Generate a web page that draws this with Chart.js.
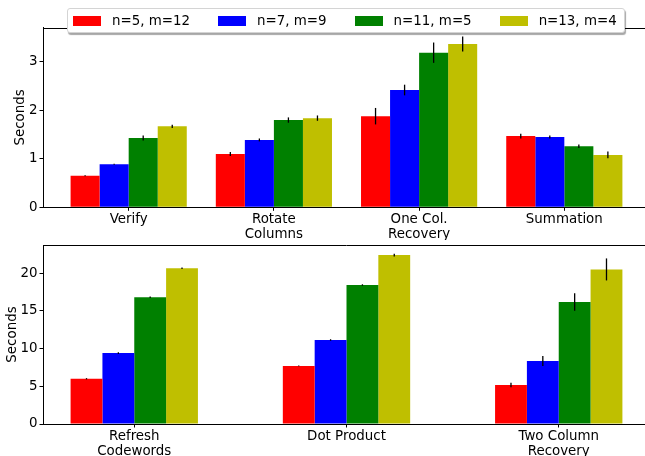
<!DOCTYPE html>
<html><head><meta charset="utf-8">
<script src="https://cdn.jsdelivr.net/npm/chart.js@4"></script>
<style>
html,body{margin:0;padding:0;background:#fff;}
#wrap{position:relative;width:645px;height:456px;overflow:hidden;background:#fff;}
canvas{position:absolute;left:0;}
#legend{position:absolute;left:67px;top:8px;width:558px;height:25px;box-sizing:border-box;border:1px solid #d4d4d4;border-radius:3px;background:#fff;box-shadow:1px 2px 1px rgba(0,0,0,0.35);display:flex;align-items:center;font-family:'DejaVu Sans';font-size:13.4px;color:#000;z-index:2;padding-left:5px;}
.sw{width:28px;height:10px;margin-right:11px;flex:none;}
.lt{margin-right:28px;white-space:nowrap;}
</style>
</head><body>
<div id="wrap">
  <canvas id="c1" width="660" height="240" style="top:0px"></canvas>
  <canvas id="c2" width="660" height="226" style="top:230px"></canvas>
  <div id="legend"></div>
</div>
<script>
// ---- data ----
const seriesLabels = ['n=5, m=12', 'n=7, m=9', 'n=11, m=5', 'n=13, m=4'];
const seriesColors = ['#ff0000', '#0000ff', '#008000', '#bfbf00'];

const topCategories = ['Verify', ['Rotate', 'Columns'], ['One Col.', 'Recovery'], 'Summation'];
const topRed    = [0.65, 1.10, 1.88, 1.47];
const topBlue   = [0.89, 1.39, 2.42, 1.45];
const topGreen  = [1.43, 1.80, 3.19, 1.26];
const topYellow = [1.67, 1.84, 3.37, 1.08];
const topRedErr    = [0.01, 0.04, 0.17, 0.05];
const topBlueErr   = [0.01, 0.03, 0.11, 0.03];
const topGreenErr  = [0.05, 0.055, 0.21, 0.035];
const topYellowErr = [0.035, 0.055, 0.155, 0.07];
const topYTicks = [0, 1, 2, 3];

const botCategories = [['Refresh', 'Codewords'], 'Dot Product', ['Two Column', 'Recovery']];
const botRed    = [6.0, 7.7, 5.17];
const botBlue   = [9.4, 11.14, 8.36];
const botGreen  = [16.8, 18.43, 16.18];
const botYellow = [20.65, 22.41, 20.5];
const botRedErr    = [0.08, 0.05, 0.3];
const botBlueErr   = [0.1, 0.1, 0.66];
const botGreenErr  = [0.1, 0.1, 1.15];
const botYellowErr = [0.1, 0.18, 1.46];
const botYTicks = [0, 5, 10, 15, 20];

// ---- legend ----
const lg = document.getElementById('legend');
seriesLabels.forEach((l, i) => {
  const s = document.createElement('span'); s.className = 'sw'; s.style.background = seriesColors[i];
  const t = document.createElement('span'); t.className = 'lt'; t.textContent = l;
  lg.appendChild(s); lg.appendChild(t);
});

Chart.defaults.font.family = "'DejaVu Sans'";
Chart.defaults.font.size = 13.4;
Chart.defaults.color = '#000';

const errorBars = {
  id: 'errorBars',
  afterDatasetsDraw(chart) {
    const ctx = chart.ctx, ys = chart.scales.y;
    ctx.save();
    ctx.strokeStyle = '#000';
    ctx.lineWidth = 1.3;
    chart.data.datasets.forEach((ds, i) => {
      const meta = chart.getDatasetMeta(i);
      meta.data.forEach((bar, j) => {
        const v = ds.data[j].y, e = ds.errors[j];
        ctx.beginPath();
        ctx.moveTo(bar.x, ys.getPixelForValue(v + e));
        ctx.lineTo(bar.x, ys.getPixelForValue(v - e));
        ctx.stroke();
      });
    });
    ctx.restore();
  }
};
const spines = {
  id: 'spines',
  afterDraw(chart) {
    const ctx = chart.ctx, a = chart.chartArea;
    ctx.save();
    ctx.strokeStyle = '#000';
    ctx.lineWidth = 1;
    ctx.beginPath();
    ctx.moveTo(a.left, Math.round(a.top) + 0.5);
    ctx.lineTo(a.right, Math.round(a.top) + 0.5);
    ctx.lineTo(a.right, a.bottom);
    ctx.stroke();
    ctx.restore();
  }
};

function makeChart(id, cats, vals, errs, yMax, yTicks, catPct, xMin, xMax, padTop, xH, titlePad) {
  return new Chart(document.getElementById(id), {
    type: 'bar',
    data: {
      datasets: seriesLabels.map((l, i) => ({
        label: l,
        data: vals[i].map((v, j) => ({ x: j, y: v })),
        errors: errs[i],
        backgroundColor: seriesColors[i],
        borderWidth: 0,
        categoryPercentage: catPct,
        barPercentage: 1
      }))
    },
    options: {
      responsive: false, animation: false, devicePixelRatio: 1,
      layout: { padding: { top: padTop, right: 10, left: 0, bottom: 0 } },
      plugins: { legend: { display: false }, tooltip: { enabled: false } },
      scales: {
        x: {
          type: 'linear', min: xMin, max: xMax, offset: false,
          afterBuildTicks: s => { s.ticks = cats.map((c, j) => ({ value: j })); },
          afterFit: s => { s.height = xH; },
          ticks: { callback: v => cats[v], autoSkip: false, maxRotation: 0, minRotation: 0, padding: 1, font: { lineHeight: 1.15 } },
          grid: { offset: false, drawOnChartArea: false, drawTicks: true, tickLength: 3.5, color: '#000' },
          border: { color: '#000', width: 1 }
        },
        y: {
          min: 0, max: yMax,
          afterBuildTicks: s => { s.ticks = yTicks.map(v => ({ value: v })); },
          afterFit: s => { s.width = 43; },
          ticks: { padding: 2 },
          grid: { drawOnChartArea: false, drawTicks: true, tickLength: 3.5, color: '#000' },
          border: { color: '#000', width: 1 },
          title: { display: true, text: 'Seconds', padding: { top: titlePad, bottom: 0 } }
        }
      }
    },
    plugins: [errorBars, spines]
  });
}

makeChart('c1', topCategories,
  [topRed, topBlue, topGreen, topYellow],
  [topRedErr, topBlueErr, topGreenErr, topYellowErr],
  3.71, topYTicks, 0.8, -0.59, 3.59, 27.5, 32.7, 12);
makeChart('c2', botCategories,
  [botRed, botBlue, botGreen, botYellow],
  [botRedErr, botBlueErr, botGreenErr, botYellowErr],
  23.74, botYTicks, 0.6, -0.43, 2.43, 15, 32, 4);
</script>
</body></html>
